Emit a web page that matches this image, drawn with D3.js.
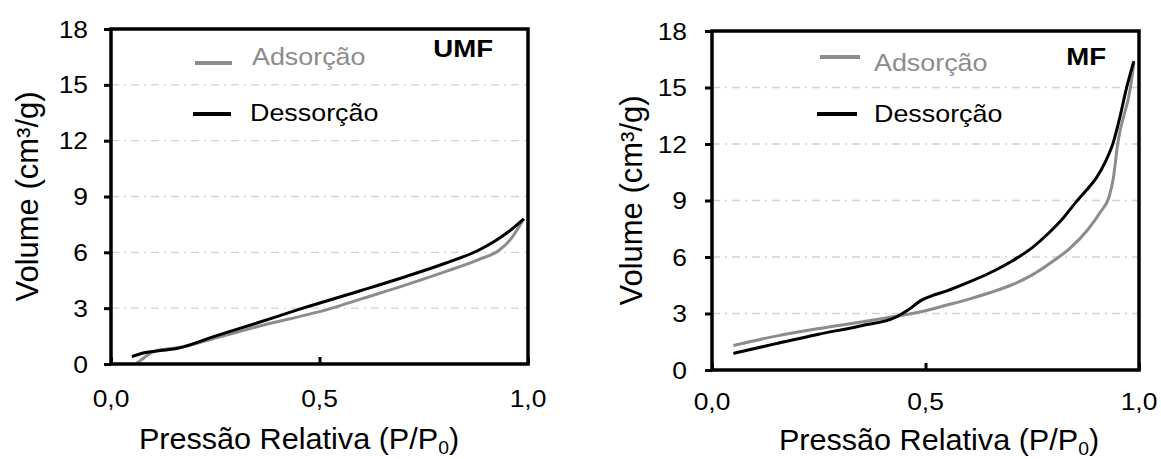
<!DOCTYPE html>
<html>
<head>
<meta charset="utf-8">
<script src="https://cdn.jsdelivr.net/npm/d3@7"></script>
<style>
  html, body { margin: 0; padding: 0; background: #ffffff; }
  svg { display: block; }
  text { font-family: "Liberation Sans", Arial, sans-serif; }
</style>
</head>
<body>
<svg id="chart" width="1161" height="459"></svg>
<script>
// Relative pressure (P/P0) values and adsorbed volumes (cm³/g)
const umfAdsP = [0.06, 0.08, 0.10, 0.13, 0.16, 0.25, 0.35, 0.53, 0.60, 0.70, 0.80, 0.88, 0.93, 0.96, 0.99];
const umfAdsV = [0.00, 0.35, 0.65, 0.80, 0.87, 1.40, 2.00, 3.00, 3.50, 4.20, 4.95, 5.60, 6.10, 6.75, 7.80];
const umfDesP = [0.05, 0.08, 0.12, 0.16, 0.25, 0.35, 0.46, 0.60, 0.70, 0.80, 0.88, 0.92, 0.95, 0.99];
const umfDesV = [0.40, 0.60, 0.72, 0.85, 1.50, 2.20, 3.00, 3.95, 4.65, 5.40, 6.10, 6.60, 7.05, 7.80];

const mfAdsP = [0.05, 0.15, 0.25, 0.35, 0.43, 0.50, 0.55, 0.60, 0.65, 0.70, 0.75, 0.80, 0.84, 0.88, 0.91, 0.93, 0.94, 0.95, 0.98, 0.988];
const mfAdsV = [1.30, 1.80, 2.20, 2.55, 2.85, 3.15, 3.45, 3.75, 4.10, 4.50, 5.05, 5.80, 6.50, 7.45, 8.40, 9.20, 10.20, 12.00, 15.00, 16.30];
const mfDesP = [0.05, 0.15, 0.25, 0.35, 0.43, 0.46, 0.49, 0.51, 0.55, 0.60, 0.65, 0.70, 0.75, 0.79, 0.82, 0.852, 0.875, 0.90, 0.92, 0.94, 0.955, 0.97, 0.988];
const mfDesV = [0.88, 1.40, 1.90, 2.35, 2.80, 3.20, 3.70, 3.90, 4.20, 4.65, 5.15, 5.75, 6.50, 7.30, 8.00, 8.90, 9.50, 10.20, 11.00, 12.10, 13.40, 14.90, 16.40];

// Axis ticks and labels
const xTicks = [0, 0.5, 1];
const xTickLabels = ["0,0", "0,5", "1,0"];
const yTicks = [0, 3, 6, 9, 12, 15, 18];
const gridValues = [3, 6, 9, 12, 15];
const seriesNames = ["Adsorção", "Dessorção"];
const sampleNames = ["UMF", "MF"];

const svg = d3.select("#chart");
const GRAY = "#8c8c8c";
const BLACK = "#000000";

// horizontal text placed at (x, y), slightly widened
function label(parent, x, y, size, sx, anchor) {
  return parent.append("text")
    .attr("transform", `translate(${x},${y}) scale(${sx},1)`)
    .attr("text-anchor", anchor).attr("font-size", size).attr("fill", BLACK);
}

const panels = [
  {
    name: sampleNames[0], ads: [umfAdsP, umfAdsV], des: [umfDesP, umfDesV],
    box: { x0: 111, x1: 528, y0: 29, y1: 364 },
    yLabelX: 88, xLabelY: 407, xTitle: { x: 299, y: 449 }, yTitleX: 38,
    legend: { adsLine: [195, 232, 63], adsText: [252, 65], desLine: [193, 231, 114], desText: [250, 121] },
    tag: { x: 493, y: 57 }
  },
  {
    name: sampleNames[1], ads: [mfAdsP, mfAdsV], des: [mfDesP, mfDesV],
    box: { x0: 712, x1: 1139, y0: 31, y1: 370 },
    yLabelX: 687, xLabelY: 410, xTitle: { x: 939, y: 450 }, yTitleX: 642,
    legend: { adsLine: [820, 860, 57], adsText: [874, 71], desLine: [817, 857, 114], desText: [874, 122] },
    tag: { x: 1106, y: 65 }
  }
];

panels.forEach(p => {
  const b = p.box;
  const x = d3.scaleLinear().domain([0, 1]).range([b.x0, b.x1]);
  const y = d3.scaleLinear().domain([0, 18]).range([b.y1, b.y0]);
  const g = svg.append("g");

  // dash-dot horizontal grid
  g.selectAll("line.grid").data(gridValues).enter().append("line")
    .attr("class", "grid")
    .attr("x1", b.x0).attr("x2", b.x1)
    .attr("y1", d => y(d)).attr("y2", d => y(d))
    .attr("stroke", "#d3d3d3").attr("stroke-width", 1.3)
    .attr("stroke-dasharray", "8,5,2,5");

  // y axis ticks (outside) and labels
  const yAxis = d3.axisLeft(y).tickValues(yTicks).tickSize(7).tickFormat("");
  const ya = g.append("g").attr("transform", `translate(${b.x0},0)`).call(yAxis);
  ya.select(".domain").remove();
  ya.selectAll(".tick line").attr("stroke", BLACK).attr("stroke-width", 3);
  yTicks.forEach(v => {
    label(g, p.yLabelX, y(v) + 8.5, 24, 1.1, "end").text(v);
  });

  // x axis: inner tick at 0.5 and labels
  const xAxis = d3.axisBottom(x).tickValues(xTicks).tickSizeInner(-7).tickSizeOuter(0).tickFormat("");
  const xa = g.append("g").attr("transform", `translate(0,${b.y1})`).call(xAxis);
  xa.select(".domain").remove();
  xa.selectAll(".tick line").attr("stroke", BLACK).attr("stroke-width", 3);
  xTicks.forEach((v, i) => {
    label(g, x(v), p.xLabelY, 24, 1.1, "middle").text(xTickLabels[i]);
  });

  // curves
  const line = d3.line().x(d => x(d[0])).y(d => y(d[1])).curve(d3.curveMonotoneX);
  const adsPts = p.ads[0].map((v, i) => [v, p.ads[1][i]]);
  const desPts = p.des[0].map((v, i) => [v, p.des[1][i]]);
  g.append("path").datum(adsPts).attr("d", line)
    .attr("fill", "none").attr("stroke", GRAY).attr("stroke-width", 3).attr("stroke-linejoin", "round");
  g.append("path").datum(desPts).attr("d", line)
    .attr("fill", "none").attr("stroke", BLACK).attr("stroke-width", 3).attr("stroke-linejoin", "round");

  // frame
  g.append("rect")
    .attr("x", b.x0).attr("y", b.y0)
    .attr("width", b.x1 - b.x0).attr("height", b.y1 - b.y0)
    .attr("fill", "none").attr("stroke", BLACK).attr("stroke-width", 3.5);

  // legend
  const L = p.legend;
  g.append("line").attr("x1", L.adsLine[0]).attr("x2", L.adsLine[1])
    .attr("y1", L.adsLine[2]).attr("y2", L.adsLine[2]).attr("stroke", GRAY).attr("stroke-width", 4);
  label(g, L.adsText[0], L.adsText[1], 24, 1.12, "start").attr("fill", GRAY).text(seriesNames[0]);
  g.append("line").attr("x1", L.desLine[0]).attr("x2", L.desLine[1])
    .attr("y1", L.desLine[2]).attr("y2", L.desLine[2]).attr("stroke", BLACK).attr("stroke-width", 4);
  label(g, L.desText[0], L.desText[1], 24, 1.12, "start").text(seriesNames[1]);

  // sample tag
  label(g, p.tag.x, p.tag.y, 23, 1.2, "end").attr("font-weight", "bold").text(p.name);

  // axis titles
  const xt = label(g, p.xTitle.x, p.xTitle.y, 30, 1.02, "middle");
  xt.append("tspan").text("Pressão Relativa (P/P");
  xt.append("tspan").attr("font-size", 19).attr("dy", 4.5).text("0");
  xt.append("tspan").attr("dy", -4.5).text(")");

  g.append("text")
    .attr("transform", `translate(${p.yTitleX},${(b.y0 + b.y1) / 2}) rotate(-90)`)
    .attr("text-anchor", "middle").attr("font-size", 31).attr("fill", BLACK)
    .text("Volume (cm³/g)");
});
</script>
</body>
</html>
